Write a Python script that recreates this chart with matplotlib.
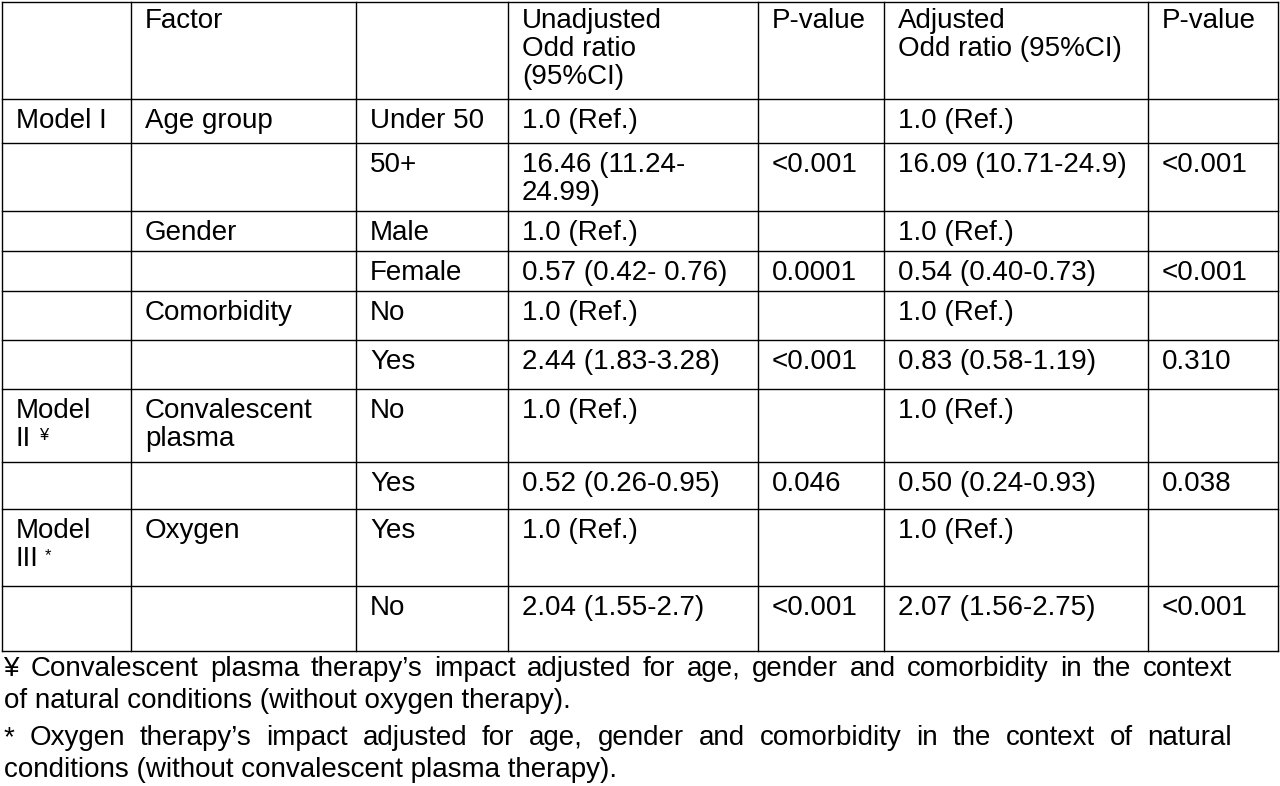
import matplotlib
matplotlib.use("Agg")
import matplotlib.pyplot as plt

plt.rcParams['font.family'] = ['Liberation Sans', 'DejaVu Sans']

col_edges = [2, 131, 356, 508, 758, 884, 1148, 1278]
row_edges = [2, 99, 143, 211, 251, 291, 340, 389, 462, 509, 586, 651]

header = ["", "Factor", "", "Unadjusted\nOdd ratio\n(95%CI)", "P-value", "Adjusted\nOdd ratio (95%CI)", "P-value"]
models = ["Model I", "", "", "", "", "", "Model\nII", "", "Model\nIII", ""]
model_sup = ["", "", "", "", "", "", "¥", "", "*", ""]
factors = ["Age group", "", "Gender", "", "Comorbidity", "", "Convalescent\nplasma", "", "Oxygen", ""]
levels = ["Under 50", "50+", "Male", "Female", "No", "Yes", "No", "Yes", "Yes", "No"]
unadj = ["1.0 (Ref.)", "16.46 (11.24-\n24.99)", "1.0 (Ref.)", "0.57 (0.42- 0.76)", "1.0 (Ref.)",
         "2.44 (1.83-3.28)", "1.0 (Ref.)", "0.52 (0.26-0.95)", "1.0 (Ref.)", "2.04 (1.55-2.7)"]
p_unadj = ["", "<0.001", "", "0.0001", "", "<0.001", "", "0.046", "", "<0.001"]
adj = ["1.0 (Ref.)", "16.09 (10.71-24.9)", "1.0 (Ref.)", "0.54 (0.40-0.73)", "1.0 (Ref.)",
       "0.83 (0.58-1.19)", "1.0 (Ref.)", "0.50 (0.24-0.93)", "1.0 (Ref.)", "2.07 (1.56-2.75)"]
p_adj = ["", "<0.001", "", "<0.001", "", "0.310", "", "0.038", "", "<0.001"]
footnotes = ["¥ Convalescent plasma therapy\u2019s impact adjusted for age, gender and comorbidity in the context",
             "of natural conditions (without oxygen therapy).",
             "* Oxygen therapy\u2019s impact adjusted for age, gender and comorbidity in the context of natural",
             "conditions (without convalescent plasma therapy)."]
justify = [True, False, True, False]

fig = plt.figure(figsize=(12.8, 7.86), dpi=100)
ax = fig.add_axes([0, 0, 1, 1])
ax.set_xlim(0, 1280)
ax.set_ylim(786, 0)
ax.axis('off')

lw = 1.0
for x in col_edges:
    ax.plot([x, x], [row_edges[0], row_edges[-1]], color='black', lw=lw)
for y in row_edges:
    ax.plot([col_edges[0], col_edges[-1]], [y, y], color='black', lw=lw)

fs = 20
lsp = 1.1
pad = 14
def put(ci, ytop, s):
    ax.text(col_edges[ci] + pad, ytop, s, fontsize=fs, va='top', ha='left', linespacing=lsp)

for ci, h in enumerate(header):
    put(ci, 8, h)

for ri in range(len(levels)):
    ytop = row_edges[ri + 1] + 9
    cols = [models[ri], factors[ri], levels[ri], unadj[ri], p_unadj[ri], adj[ri], p_adj[ri]]
    for ci, s in enumerate(cols):
        if s:
            put(ci, ytop, s)
    if model_sup[ri]:
        w = 23 if model_sup[ri] == "¥" else 29
        ax.text(col_edges[0] + pad + w, ytop + 30, model_sup[ri], fontsize=12, va='top', ha='left')

fig.canvas.draw()
r = fig.canvas.get_renderer()
def width_px(s):
    t = ax.text(0, 0, s, fontsize=fs)
    w = t.get_window_extent(renderer=r).width
    t.remove()
    return w

fy = [656, 688, 725, 757]
x0, x1 = 4, 1232
for y, s, j in zip(fy, footnotes, justify):
    if not j:
        ax.text(x0, y, s, fontsize=fs, va='top', ha='left')
        continue
    words = s.split(" ")
    ws = [width_px(w) for w in words]
    gap = (x1 - x0 - sum(ws)) / (len(words) - 1)
    x = x0
    for w, wd in zip(words, ws):
        ax.text(x, y, w, fontsize=fs, va='top', ha='left')
        x += wd + gap

fig.savefig("out.png", dpi=100)
